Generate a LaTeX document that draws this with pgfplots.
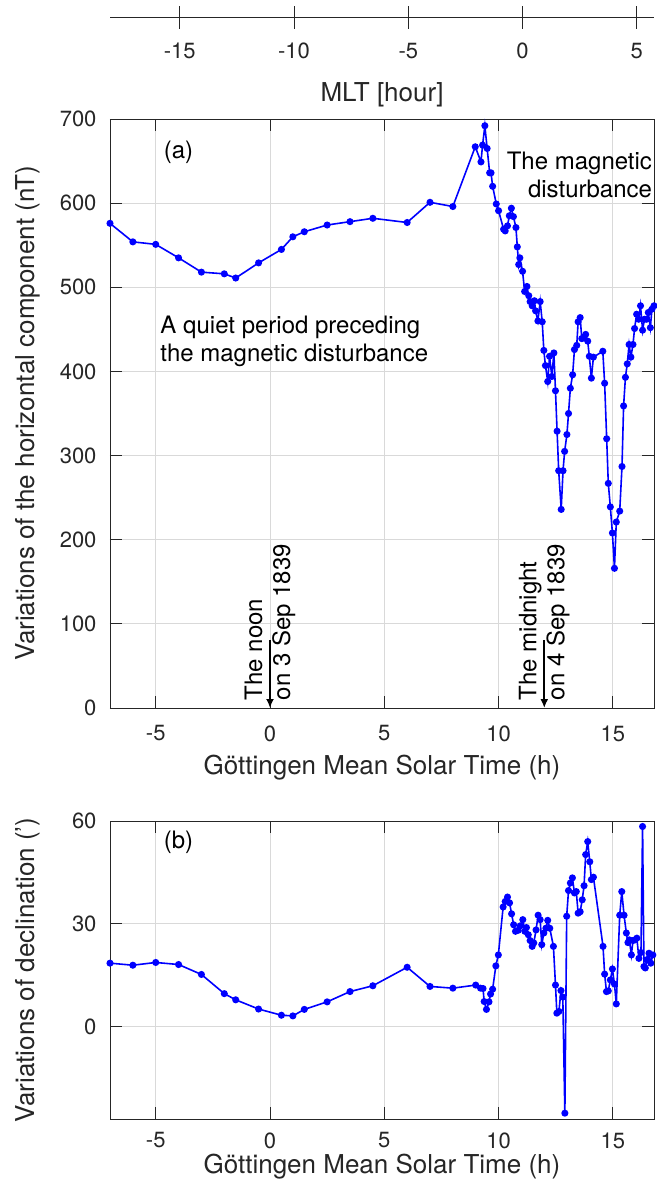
\documentclass[border=0pt]{standalone}
\usepackage{fontspec}
\setmainfont{TeX Gyre Heros}
\usepackage{pgfplots}
\pgfplotsset{compat=1.18}
\usetikzlibrary{arrows.meta}
\definecolor{axgray}{gray}{0.15}
\definecolor{gridgray}{gray}{0.85}

\tikzset{note/.style={font=\fontsize{24}{28}\selectfont, text=black, inner sep=0pt}}
\pgfplotsset{
  panel/.style={
    scale only axis, width=544pt,
    xmin=-7, xmax=16.8,
    xtick={-5,0,...,15},
    grid=major,
    major grid style={gridgray, line width=0.9pt},
    axis line style={axgray, line width=0.9pt},
    tick style={axgray, line width=0.9pt},
    major tick length=12pt,
    tick align=inside,
    ticklabel style={font=\fontsize{22}{22}\selectfont, text=axgray},
    yticklabel style={xshift=-10pt},
    /pgf/number format/assume math mode=true,
    xlabel={Göttingen Mean Solar Time (h)},
    every axis y label/.style={at={(axis description cs:-0.1507,0.5)}, rotate=90, anchor=center,
      font=\fontsize{26}{26}\selectfont, text=axgray},
    clip=false,
  },
  dat/.style={blue, line width=1.6pt, mark=*, mark size=2.7pt, mark options={fill=blue, draw=blue}},
}

\begin{document}
\begin{tikzpicture}
% MLT axis on top
\begin{axis}[
  scale only axis, width=544pt, height=10pt,
  at={(110pt,-17pt)}, anchor=south west,
  xmin=-18.05, xmax=5.75, ymin=0, ymax=1,
  axis x line=bottom, hide y axis,
  axis line style={-, axgray, line width=0.9pt},
  tick style={axgray, line width=0.9pt},
  xtick={-15,-10,...,5}, xtick align=center, major tick length=23pt,
  ticklabel style={font=\fontsize{22}{22}\selectfont, text=axgray},
  xticklabel style={yshift=-11pt},
  /pgf/number format/assume math mode=true,
  xlabel={MLT [hour]},
  every axis x label/.style={at={(axis description cs:0.5,0)}, anchor=center, yshift=-78pt,
    font=\fontsize{26}{26}\selectfont, text=axgray},
]
\addplot[draw=none] coordinates {(0,0)};
\end{axis}

% panel (a)
\begin{axis}[panel, height=589pt,
  at={(110pt,-119pt)}, anchor=north west,
  ymin=0, ymax=700, ytick={0,100,...,700},
  xticklabel style={yshift=-14pt},
  every axis x label/.style={at={(axis description cs:0.5,0)}, anchor=center, yshift=-60pt,
    font=\fontsize{26}{26}\selectfont, text=axgray},
  ylabel={Variations of the horizontal component (nT)},
]
\addplot[dat] coordinates {
(-7.0,576) (-6.0,554) (-5.0,551) (-4.0,535) (-3.0,518) (-2.0,516) (-1.5,511)
(-0.5,529) (0.5,545) (1.0,560) (1.5,566) (2.5,574) (3.5,578) (4.5,582)
(6.0,577) (7.0,601) (8.0,596) (8.98,667) (9.23,649) (9.30,669) (9.40,692)
(9.50,665) (9.61,636) (9.67,636) (9.74,620) (9.90,599) (10.0,591)
(10.22,569) (10.29,567) (10.39,573) (10.47,585) (10.56,594) (10.65,584)
(10.76,571) (10.82,548) (10.88,527) (10.93,535) (11.05,519) (11.14,495)
(11.24,501) (11.32,490) (11.38,483) (11.47,478) (11.57,484) (11.62,472)
(11.72,460) (11.82,483) (11.91,459) (11.98,425) (12.05,407) (12.15,388)
(12.23,418) (12.33,394) (12.42,422) (12.49,377) (12.56,329) (12.63,282)
(12.74,236) (12.82,282) (12.89,305) (12.99,325) (13.06,350) (13.14,380)
(13.24,396) (13.32,426) (13.42,431) (13.48,459) (13.57,464) (13.64,439)
(13.72,440) (13.81,444) (13.90,436) (13.97,418) (14.06,392) (14.15,417)
(14.56,424) (14.64,386) (14.73,320) (14.80,267) (14.89,239) (14.98,208)
(15.07,166) (15.15,221) (15.30,234) (15.40,287) (15.47,359) (15.55,393)
(15.63,409) (15.71,432) (15.79,417) (15.88,432) (15.95,451) (16.04,468)
(16.13,462) (16.21,478) (16.30,449) (16.38,462) (16.48,462) (16.55,470)
(16.64,452) (16.71,474) (16.80,478)
};
\node[note, anchor=center] at (axis cs:-4.0,661) {(a)};
\node[note, anchor=east, align=right] at (axis cs:16.72,633) {The magnetic\\disturbance};
\node[note, anchor=west, align=left] at (axis cs:-4.8,436) {A quiet period preceding\\the magnetic disturbance};
\draw[black, line width=1.8pt, -{Latex[length=9pt,width=8pt]}] (axis cs:0,81) -- (axis cs:0,0);
\draw[black, line width=1.8pt, -{Latex[length=9pt,width=8pt]}] (axis cs:12,81) -- (axis cs:12,0);
\node[note, rotate=90, anchor=west, align=left] at (axis cs:0,9) {The noon\\on 3 Sep 1839};
\node[note, rotate=90, anchor=west, align=left] at (axis cs:12,9) {The midnight\\on 4 Sep 1839};
\end{axis}

% panel (b)
\begin{axis}[panel, height=298pt,
  at={(110pt,-821pt)}, anchor=north west,
  ymin=-27, ymax=60, ytick={0,30,60},
  xticklabel style={yshift=-10pt},
  every axis x label/.style={at={(axis description cs:0.5,0)}, anchor=center, yshift=-48pt,
    font=\fontsize{26}{26}\selectfont, text=axgray},
  ylabel={Variations of declination (')},
]
\addplot[dat] coordinates {
(-7.0,18.5) (-6.0,17.9) (-5.0,18.7) (-4.0,18.1) (-3.0,15.2) (-2.0,9.6)
(-1.5,7.8) (-0.5,5.1) (0.5,3.3) (1.0,3.1) (1.5,5.0) (2.5,7.2) (3.5,10.2)
(4.5,11.9) (6.0,17.3) (7.0,11.7) (8.0,11.2) (9.0,12.1) (9.21,11.2)
(9.32,11.1) (9.37,7.3) (9.47,5.0) (9.58,7.2) (9.65,9.5) (9.74,10.9)
(9.88,17.7) (9.99,20.9) (10.20,34.9) (10.29,36.5) (10.39,37.8) (10.48,36.1)
(10.57,32.9) (10.66,29.7) (10.74,27.8) (10.86,28.1) (10.95,29.4) (11.06,31.2)
(11.15,27.8) (11.22,28.9) (11.30,26.8) (11.38,25.1) (11.47,23.4) (11.54,24.4)
(11.64,28.2) (11.73,32.5) (11.82,31.2) (11.89,23.9) (11.98,27.3) (12.07,28.7)
(12.15,31.0) (12.24,28.7) (12.40,23.4) (12.49,12.1) (12.55,3.9) (12.64,4.4)
(12.73,10.5) (12.81,8.6) (12.90,-25.3) (12.98,32.2) (13.06,39.7) (13.14,41.9)
(13.23,43.4) (13.32,39.0) (13.40,39.4) (13.48,33.1) (13.57,33.5) (13.66,37.0)
(13.74,41.1) (13.81,50.2) (13.90,54.0) (13.99,48.1) (14.06,42.9) (14.15,43.6)
(14.57,23.4) (14.64,15.3) (14.72,10.2) (14.80,10.4) (14.89,13.6) (14.98,16.8)
(15.07,12.4) (15.15,6.6) (15.30,32.5) (15.39,39.4) (15.49,32.5) (15.59,27.3)
(15.66,24.5) (15.72,25.3) (15.81,20.9) (15.88,25.1) (15.97,25.3) (16.05,25.8)
(16.14,19.9) (16.23,21.6) (16.30,58.4) (16.36,17.5) (16.42,17.1) (16.48,19.5)
(16.58,21.4) (16.66,18.5) (16.75,20.9)
};
\node[note, anchor=center] at (axis cs:-4.0,53.7) {(b)};
\end{axis}

\pgfresetboundingbox
\path[use as bounding box] (0,0) rectangle (656pt,-1191pt);
\end{tikzpicture}
\end{document}
